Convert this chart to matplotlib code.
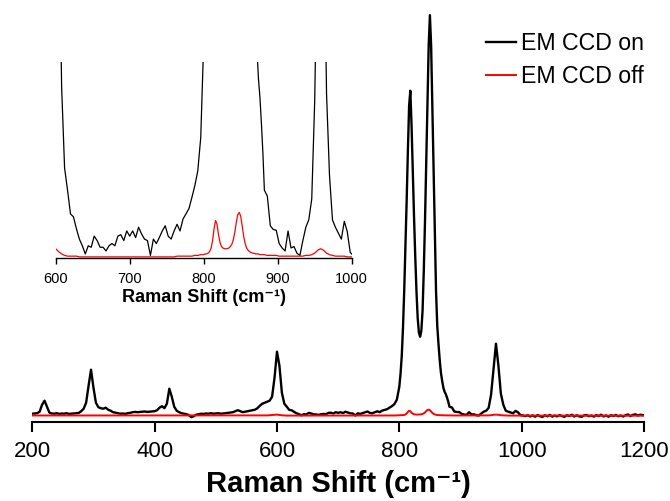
import numpy as np
import matplotlib
matplotlib.use("Agg")
import matplotlib.pyplot as plt

plt.rcParams['font.family'] = ['Liberation Sans', 'DejaVu Sans']

# Raman shift sampling grid (cm-1): 4 cm-1 steps, 2 cm-1 across the 818/850 doublet
shift = np.concatenate([np.arange(200, 800, 4), np.arange(800, 881, 2), np.arange(882, 1200, 4)])

# EM CCD on (black), intensity in arbitrary units
em_on_a = [20, 22, 25, 40, 110, 150, 90, 30, 22, 20,
           25, 18, 22, 20, 25, 18, 20, 22, 25, 28,
           45, 70, 130, 300, 460, 280, 130, 85, 75, 70,
           80, 60, 50, 35, 30, 25, 20, 22, 18, 25,
           28, 35, 38, 35, 38, 40, 42, 38, 40, 42,
           45, 55, 80, 95, 75, 120, 270, 190, 90, 50,
           35, 25, 20, 15, 5, -15, -5, 10, 15, 20,
           18, 22, 20, 25, 20, 22, 25, 20, 22, 25,
           28, 30, 35, 45, 55, 45, 35, 40, 45, 50,
           55, 60, 75, 100, 120, 130, 140, 150, 190, 380,
           640, 500, 230, 120, 90, 58, 54, 38, 24, 15,
           4, 15, 13, 28, 22, 13, 13, 8, 15, 18,
           15, 28, 30, 22, 35, 28, 35, 26, 40, 31,
           24, 22, 2, 24, 18, 26, 35, 42, 28, 24,
           35, 44, 35, 51, 58, 65, 80, 96, 116, 161]
em_on_b = [290, 420, 600, 880, 1250, 1700, 2150, 2650, 3100, 3250,
           2900, 2450, 2000, 1600, 1250, 980, 830, 790, 850, 1050,
           1450, 1950, 2550, 3150, 3700, 4005, 3700, 3100, 2450, 1850,
           1250, 900, 720, 560, 430, 350, 280, 240, 215, 180,
           140]
em_on_c = [90, 82, 42, 37, 36, 18, 12, 8, 35, 12,
           14, 5, 2, 22, 40, 50, 78, 210, 460, 720,
           500, 220, 110, 50, 40, 32, 24, 48, 34, 6,
           2, -4, 5, -8, 3, -10, 6, -5, -12, 4,
           -6, 8, -9, 2, -7, 6, -4, -11, 5, -3,
           9, -8, 4, -6, -12, 3, 7, -5, 2, -9,
           6, -4, 10, -7, 3, -10, 5, -3, 8, -6,
           2, -8, 6, 12, -4, 9, 14, 2, 10, 6]

# EM CCD off (red)
em_off_a = [2, 2, 1, 2, 2, 2, 1, 1, 1, 1,
            1, 1, 1, 1, 1, 1, 1, 1, 1, 1,
            1, 1, 1, 2, 2, 2, 1, 1, 1, 1,
            1, 1, 1, 1, 1, 1, 1, 1, 1, 1,
            1, 1, 1, 1, 1, 1, 1, 1, 1, 1,
            1, 1, 1, 1, 1, 1, 2, 2, 1, 1,
            1, 1, 1, 1, 1, 1, 1, 1, 1, 1,
            1, 1, 1, 1, 1, 1, 1, 1, 1, 1,
            1, 1, 1, 1, 1, 1, 1, 1, 1, 1,
            1, 1, 1, 2, 2, 3, 3, 5, 8, 10,
            11, 7, 4, 2, 1, 1, 1, 1, 0, 0,
            0, 0, 0, 0, 0, 0, 0, 0, 0, 0,
            0, 0, 0, 0, 0, 0, 0, 0, 0, 0,
            0, 0, 0, 0, 0, 0, 0, 0, 0, 0,
            0, 1, 1, 1, 1, 1, 1, 2, 2, 3]
em_off_b = [3, 4, 4, 5, 7, 12, 22, 38, 49, 44,
            30, 20, 14, 12, 11, 11, 11, 12, 14, 17,
            23, 33, 46, 57, 60, 55, 42, 28, 18, 12,
            9, 7, 6, 5, 5, 4, 4, 4, 3, 3,
            3]
em_off_c = [3, 2, 2, 2, 2, 1, 1, 1, 1, 1,
            1, 1, 1, 1, 2, 2, 3, 5, 9, 11,
            9, 5, 3, 2, 1, 1, 1, 1, 0, 0,
            0, 0, 0, 0, 0, 0, 0, 0, 0, 0,
            0, 0, 0, 0, 0, 0, 0, 0, 0, 0,
            0, 0, 0, 0, 0, 0, 0, 0, 0, 0,
            0, 0, 0, 0, 0, 0, 0, 0, 0, 0,
            0, 0, 0, 0, 0, 0, 0, 0, 0, 0]

em_on = np.array(em_on_a + em_on_b + em_on_c, dtype=float)
em_off = np.array(em_off_a + em_off_b + em_off_c, dtype=float)
assert len(em_on) == len(shift), (len(em_on_a), len(em_on_b), len(em_on_c), len(shift))
assert len(em_off) == len(shift), (len(em_off_a), len(em_off_b), len(em_off_c), len(shift))

main_ticks = [200, 400, 600, 800, 1000, 1200]
inset_ticks = [600, 700, 800, 900, 1000]
xlabel = 'Raman Shift (cm\u207b\u00b9)'
labels = ['EM CCD on', 'EM CCD off']

W, H = 670, 501
fig = plt.figure(figsize=(W / 100, H / 100), dpi=100)

# main axes
ax = fig.add_axes([32.3 / W, 1 - 421.5 / H, (644 - 32.3) / W, (421.5 - 10) / H])
l1, = ax.plot(shift, em_on, color='black', lw=1.7, label=labels[0])
l2, = ax.plot(shift, em_off, color='#ff0000', lw=1.4, label=labels[1])
ax.set_xlim(200, 1200)
ax.set_ylim(-58, 4057)
for s in ['left', 'right', 'top']:
    ax.spines[s].set_visible(False)
ax.spines['bottom'].set_linewidth(1.5)
ax.set_yticks([])
ax.set_xticks(main_ticks)
ax.tick_params(axis='x', direction='out', length=7, width=1.5, labelsize=16, pad=7)
ax.set_xlabel(xlabel, fontsize=21, fontweight='bold', labelpad=6)
ax.patch.set_alpha(0)

fig.legend(handles=[l1, l2], labels=labels, loc='upper left',
           bbox_to_anchor=(486 / W, 1 - 32 / H), frameon=False, fontsize=16.7,
           handlelength=1.3, handletextpad=0.2, labelspacing=0.45, borderpad=0,
           borderaxespad=0)

# inset
axi = fig.add_axes([55.7 / W, 1 - 258 / H, (351.7 - 55.7) / W, 196 / H])
axi.plot(shift, em_on, color='black', lw=0.9)
axi.plot(shift, em_off, color='#ff0000', lw=0.9)
axi.set_xlim(600, 1000)
axi.set_ylim(-1.5, 263)
for s in ['left', 'right', 'top']:
    axi.spines[s].set_visible(False)
axi.spines['bottom'].set_linewidth(1.0)
axi.set_yticks([])
axi.set_xticks(inset_ticks)
axi.tick_params(axis='x', direction='out', length=4, width=1.0, labelsize=10.5, pad=6)
axi.set_xlabel(xlabel, fontsize=13, fontweight='bold', labelpad=2)
axi.patch.set_alpha(0)

fig.savefig('out.png', dpi=100)
